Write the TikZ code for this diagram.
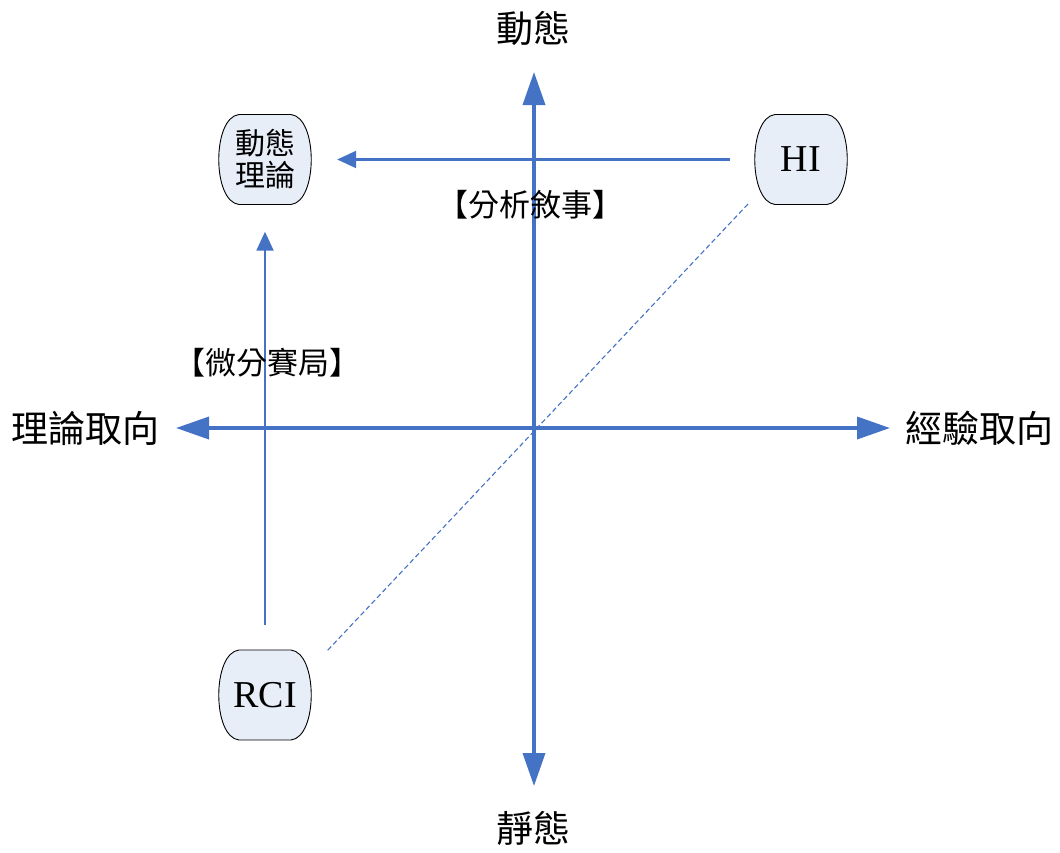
\documentclass[tikz,border=0pt]{standalone}
\usepackage{fontspec}
\setmainfont{Liberation Serif}
\newfontfamily\cjk{Noto Sans CJK TC}
\usetikzlibrary{arrows.meta,calc,backgrounds}
\definecolor{axisblue}{HTML}{4472C4}
\definecolor{boxfill}{HTML}{E8EEF8}
\tikzset{
  axisline/.style={draw=axisblue, line width=3.6pt,
    {Triangle[length=33pt,width=22pt]}-{Triangle[length=33pt,width=22pt]}},
  thinarrow/.style={draw=axisblue, line width=2.2pt, -{Triangle[length=19pt,width=17pt]}},
  dashline/.style={draw=axisblue, line width=1.1pt, dash pattern=on 5pt off 3pt},
  ovbox/.style={rectangle, minimum width=90pt, minimum height=90pt, inner sep=0pt, align=center},
  bigcjk/.style={font=\cjk\fontsize{37}{40}\selectfont},
  midcjk/.style={font=\cjk\fontsize{31}{34}\selectfont},
  boxcjk/.style={font=\cjk\fontsize{30}{32}\selectfont},
  latin/.style={font=\fontsize{38}{40}\selectfont},
  boxline/.style={draw=black, line width=0.9pt, fill=boxfill}
}
\begin{document}
\begin{tikzpicture}[x=1pt,y=-1pt]
\useasboundingbox (0,0) rectangle (1060,852);
% axes
\coordinate (top) at (534,72);
\coordinate (bot) at (534,786);
\coordinate (lft) at (176,428);
\coordinate (rgt) at (890,428);
\draw[axisline] (bot) -- (top);
\draw[axisline] (lft) -- (rgt);
% axis labels
\node[bigcjk] (ldyn) at (533,28) {動態};
\node[bigcjk] (lsta) at (533,828) {靜態};
\node[bigcjk] (lthe) at (86,428) {理論取向};
\node[bigcjk] (lexp) at (979,428) {經驗取向};
% boxes
\node[ovbox, boxcjk] (dt) at (265,159.5) {動態\\理論};
\node[ovbox, latin] (hi) at (801,159.5) {HI};
\node[ovbox, latin] (rci) at (265,695) {RCI};
\begin{scope}[on background layer]
\foreach \n in {dt,hi,rci}{
  \draw[boxline] ($(\n)+(-26,-45)$) -- ($(\n)+(26,-45)$)
    .. controls ($(\n)+(53,-42)$) and ($(\n)+(53,42)$) .. ($(\n)+(26,45)$)
    -- ($(\n)+(-26,45)$)
    .. controls ($(\n)+(-53,42)$) and ($(\n)+(-53,-42)$) .. cycle;
}
\end{scope}
% connectors
\draw[thinarrow, shorten <=26pt, shorten >=27pt] (hi.west) -- (dt.east);
\draw[thinarrow, shorten <=25pt, shorten >=27pt] (rci.north) -- (dt.south);
\coordinate (d1) at (748,204);
\coordinate (d2) at (327,651);
\draw[dashline] (d1) -- (d2);
% connector labels
\node[midcjk] (lana) at (530,205) {【分析敘事】};
\node[midcjk] (ldif) at (267,363) {【微分賽局】};
\end{tikzpicture}
\end{document}
